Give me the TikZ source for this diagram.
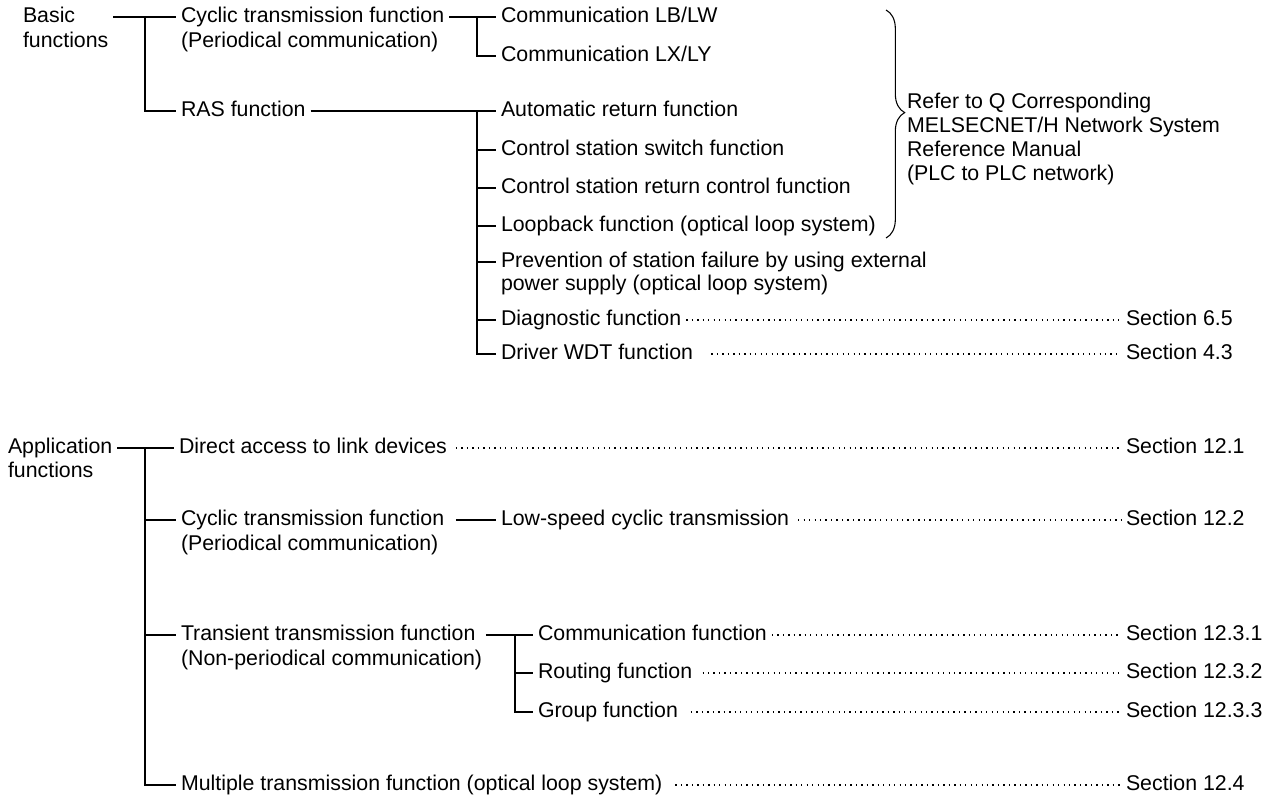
\documentclass[tikz,border=0pt]{standalone}
\usepackage{fontspec}
\setmainfont{Liberation Sans}
\usetikzlibrary{decorations.pathreplacing}

\begin{document}
\begin{tikzpicture}[x=0.75pt, y=-0.75pt, line width=1.5pt, item/.style={anchor=west, inner xsep=3pt, inner ysep=0pt, text height=11.5pt, text depth=3.4pt, node font=\fontsize{16}{19}\selectfont}, note/.style={anchor=west, align=left, inner sep=0pt, node font=\fontsize{16}{17.8}\selectfont}, lead/.style={line width=1pt, dash pattern=on 1pt off 3.1pt, shorten <=#1}, lead/.default=0pt, trunk/.style={line width=2pt}, curly/.style={decorate, decoration={brace, amplitude=14pt, aspect=0.45}, line width=0.8pt}]

\useasboundingbox (0,0) rectangle (1274,805);

\node [item] (basic) at (18,17) {Basic};
\node [item] (basic2) at (18,42) {functions};
\node [item] (cyc) at (176,17) {Cyclic transmission function};
\node [item] (cyc2) at (176,42) {(Periodical communication)};
\node [item] (ras) at (176,111) {RAS function};
\node [item] (lbw) at (496,17) {Communication LB/LW};
\node [item] (lxy) at (496,56) {Communication LX/LY};
\node [item] (autoret) at (496,111) {Automatic return function};
\node [item] (sw) at (496,150) {Control station switch function};
\node [item] (ret) at (496,188) {Control station return control function};
\node [item] (loop) at (496,226) {Loopback function (optical loop system)};
\node [item] (prev) at (496,262) {Prevention of station failure by using external};
\node [item] (prev2) at (496,285) {power supply (optical loop system)};
\node [item] (diag) at (496,320) {Diagnostic function};
\node [item] (wdt) at (496,354) {Driver WDT function};
\node [item] (sec65) at (1121,320) {Section 6.5};
\node [item] (sec43) at (1121,354) {Section 4.3};
\node [note] (refer) at (906,139) {Refer to Q Corresponding\\MELSECNET/H Network System\\Reference Manual\\(PLC to PLC network)};

\node [item] (app) at (3,448) {Application};
\node [item] (app2) at (3,472) {functions};
\node [item] (direct) at (174,448) {Direct access to link devices};
\node [item] (cyc3) at (176,520) {Cyclic transmission function};
\node [item] (cyc4) at (176,545) {(Periodical communication)};
\node [item] (low) at (496,520) {Low-speed cyclic transmission};
\node [item] (tra) at (176,635) {Transient transmission function};
\node [item] (tra2) at (176,660) {(Non-periodical communication)};
\node [item] (comm) at (533,635) {Communication function};
\node [item] (rout) at (533,673) {Routing function};
\node [item] (grp) at (533,712) {Group function};
\node [item] (mult) at (176,785) {Multiple transmission function (optical loop system)};
\node [item] (sec121) at (1121,448) {Section 12.1};
\node [item] (sec122) at (1121,520) {Section 12.2};
\node [item] (sec1231) at (1121,635) {Section 12.3.1};
\node [item] (sec1232) at (1121,673) {Section 12.3.2};
\node [item] (sec1233) at (1121,712) {Section 12.3.3};
\node [item] (sec124) at (1121,785) {Section 12.4};

\coordinate (jb) at (145,17);
\coordinate (jc) at (477,17);
\coordinate (jr) at (477,111);
\coordinate (ja) at (145,448);
\coordinate (jt) at (515,635);
\coordinate (bt) at (886,10);
\coordinate (bb) at (886,238);

\draw (basic2.east |- basic.east) -- (cyc.west);
\draw [trunk] (jb) |- (ras.west);
\draw (cyc.east) -- (lbw.west);
\draw (jc) |- (lxy.west);
\draw (ras.east) -- (autoret.west);
\draw (jr) |- (wdt.west);
\foreach \n in {sw, ret, loop, prev, diag} \draw (jr |- \n.west) -- (\n.west);
\draw [curly] (bt) -- (bb);
\draw [lead] (diag) -- (sec65);
\draw [lead=10pt] (wdt) -- (sec43);

\draw (app.east) -- (direct.west);
\draw [trunk] (ja) |- (mult.west);
\foreach \n in {cyc3, tra} \draw (ja |- \n.west) -- (\n.west);
\draw [shorten <=5pt] (cyc3.east) -- (low.west);
\draw [shorten <=4pt] (tra.east) -- (comm.west);
\draw (jt) |- (grp.west);
\draw (jt |- rout.west) -- (rout.west);
\draw [lead=3pt] (direct) -- (sec121);
\draw [lead=3pt] (low) -- (sec122);
\draw [lead] (comm) -- (sec1231);
\draw [lead=4pt] (rout) -- (sec1232);
\draw [lead=6pt] (grp) -- (sec1233);
\draw [lead=6pt] (mult) -- (sec124);

\end{tikzpicture}
\end{document}
